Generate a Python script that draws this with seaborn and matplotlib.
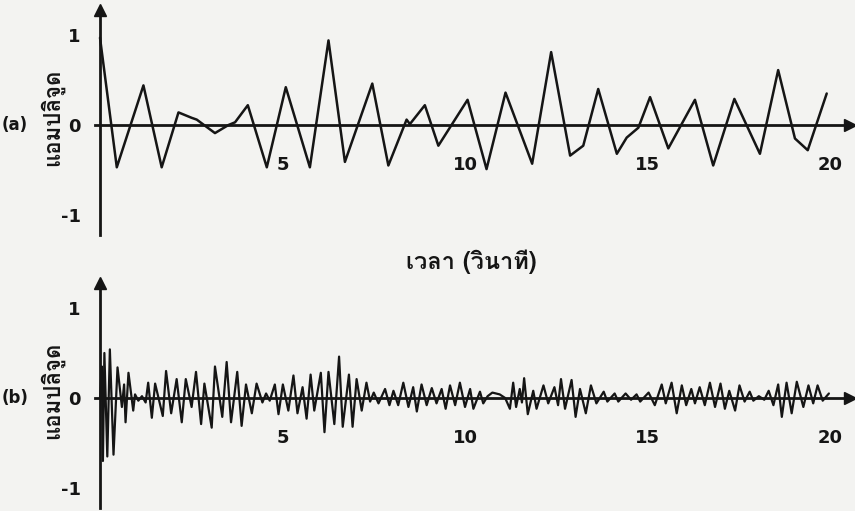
import matplotlib
matplotlib.use("Agg")
import matplotlib.pyplot as plt
from matplotlib import font_manager, ft2font
import seaborn as sns

# ข้อมูลสัญญาณ (a) : จุดยอด/จุดต่ำ อ่านจากภาพ
time_a = [0.0, 0.46, 1.19, 1.69, 2.15, 2.51, 2.65, 3.15, 3.52, 3.70, 4.05, 4.57,
          5.09, 5.75, 6.26, 6.71, 7.46, 7.90, 8.40, 8.49, 8.90, 9.27, 10.07, 10.59,
          11.11, 11.84, 12.36, 12.88, 13.24, 13.65, 14.16, 14.43, 14.75, 15.07, 15.57,
          16.30, 16.80, 17.38, 18.08, 18.58, 19.04, 19.39, 19.91]
amp_a = [0.97, -0.47, 0.44, -0.47, 0.14, 0.08, 0.06, -0.09, 0.0, 0.03, 0.22, -0.47,
         0.42, -0.47, 0.94, -0.41, 0.46, -0.45, 0.06, 0.01, 0.22, -0.23, 0.28, -0.49,
         0.36, -0.43, 0.81, -0.34, -0.23, 0.40, -0.32, -0.14, -0.03, 0.31, -0.26,
         0.28, -0.45, 0.29, -0.32, 0.61, -0.15, -0.28, 0.35]

# ข้อมูลสัญญาณ (b)
time_b = [0.00, 0.05, 0.08, 0.12, 0.20, 0.27, 0.37, 0.48, 0.60, 0.66, 0.70, 0.78,
          0.91, 0.96, 1.05, 1.15, 1.25, 1.32, 1.42, 1.51, 1.72, 1.81, 1.95, 2.10,
          2.24, 2.35, 2.51, 2.63, 2.77, 2.86, 3.06, 3.15, 3.35, 3.47, 3.59, 3.76,
          3.88, 4.00, 4.16, 4.29, 4.45, 4.55, 4.65, 4.79, 4.89, 5.01, 5.16, 5.30,
          5.41, 5.55, 5.66, 5.77, 5.87, 6.05, 6.15, 6.26, 6.42, 6.55, 6.65, 6.82,
          6.92, 7.03, 7.17, 7.30, 7.40, 7.50, 7.63, 7.81, 7.93, 8.04, 8.17, 8.31,
          8.45, 8.58, 8.68, 8.81, 8.95, 9.09, 9.22, 9.36, 9.47, 9.59, 9.73, 9.86,
          10.00, 10.14, 10.23, 10.41, 10.50, 10.62, 10.75, 10.95, 11.10, 11.23, 11.32, 11.40,
          11.50, 11.56, 11.62, 11.72, 11.87, 11.96, 12.15, 12.28, 12.45, 12.55, 12.63, 12.74,
          12.92, 13.03, 13.15, 13.31, 13.45, 13.60, 13.80, 13.90, 14.10, 14.20, 14.40, 14.55,
          14.70, 14.80, 15.03, 15.20, 15.39, 15.50, 15.66, 15.80, 15.94, 16.06, 16.20, 16.30,
          16.43, 16.57, 16.71, 16.85, 17.00, 17.12, 17.24, 17.40, 17.52, 17.66, 17.80, 17.90,
          18.05, 18.20, 18.32, 18.45, 18.58, 18.68, 18.81, 18.95, 19.09, 19.27, 19.41, 19.54,
          19.66, 19.80, 19.97]
amp_b = [0.0, 0.35, -0.70, 0.50, -0.65, 0.54, -0.63, 0.34, -0.10, 0.15, -0.27, 0.28,
         -0.14, 0.04, -0.03, 0.02, -0.05, 0.17, -0.22, 0.16, -0.20, 0.30, -0.17, 0.21,
         -0.27, 0.21, -0.10, 0.29, -0.29, 0.16, -0.33, 0.35, -0.21, 0.40, -0.27, 0.29,
         -0.31, 0.15, -0.17, 0.16, -0.05, 0.05, -0.03, 0.15, -0.18, 0.15, -0.14, 0.25,
         -0.17, 0.12, -0.23, 0.26, -0.14, 0.28, -0.38, 0.29, -0.29, 0.46, -0.32, 0.26,
         -0.32, 0.21, -0.14, 0.17, -0.04, 0.06, -0.06, 0.10, -0.08, 0.08, -0.08, 0.17,
         -0.10, 0.12, -0.15, 0.15, -0.08, 0.11, -0.06, 0.10, -0.12, 0.14, -0.08, 0.17,
         -0.10, 0.10, -0.12, 0.07, -0.06, 0.02, 0.06, 0.04, 0.0, -0.12, 0.17, -0.10,
         0.10, -0.05, 0.22, -0.18, 0.08, -0.12, 0.14, -0.06, 0.12, -0.08, 0.21, -0.12,
         0.20, -0.21, 0.10, -0.17, 0.14, -0.06, 0.07, -0.04, 0.05, -0.04, 0.05, -0.02,
         0.04, -0.04, 0.06, -0.08, 0.15, -0.06, 0.17, -0.17, 0.14, -0.08, 0.10, -0.06,
         0.12, -0.08, 0.17, -0.10, 0.16, -0.12, 0.08, -0.14, 0.14, -0.04, 0.07, -0.03,
         0.02, -0.02, 0.08, -0.08, 0.15, -0.21, 0.17, -0.17, 0.18, -0.10, 0.14, -0.06,
         0.14, -0.03, 0.05]

x_ticks = [5, 10, 15, 20]
y_ticks = [-1, 0, 1]
y_ticklabels = ['-1', '0', '1']
panel_labels = ['(a)', '(b)']
ylabel_text = 'แอมปลิจูด'
xlabel_text = 'เวลา (วินาที)'

sns.set_style("white")

# หาฟอนต์ที่มีอักษรไทย
thai_family = None
for f in font_manager.fontManager.ttflist:
    try:
        if 0x0E41 in ft2font.FT2Font(f.fname).get_charmap():
            thai_family = f.name
            break
    except Exception:
        pass
families = ([thai_family] if thai_family else []) + ['DejaVu Sans']
plt.rcParams['font.family'] = families

ink = '#151515'
paper = '#f3f3f1'

fig = plt.figure(figsize=(8.55, 5.11), dpi=100, facecolor=paper)
ax1 = fig.add_axes([0, 1 - 250 / 511, 1, 250 / 511])
ax2 = fig.add_axes([0, 0, 1, 238 / 511])

sns.lineplot(x=time_a, y=amp_a, ax=ax1, color=ink, lw=1.8)
sns.lineplot(x=time_b, y=amp_b, ax=ax2, color=ink, lw=1.6)

ylims = [(-1.389, 1.389), (-1.256, 1.389)]
for ax, yl, lab in zip([ax1, ax2], ylims, panel_labels):
    ax.set_facecolor('none')
    ax.set_xlim(-100 / 36.5, 755 / 36.5)
    ax.set_ylim(*yl)
    for s in ['top', 'right']:
        ax.spines[s].set_visible(False)
    ax.spines['left'].set_position(('data', 0))
    ax.spines['bottom'].set_position(('data', 0))
    ax.spines['left'].set_bounds(max(yl[0], -1.22), 1.28)
    ax.spines['bottom'].set_bounds(-0.15, 20.5)
    for s in ['left', 'bottom']:
        ax.spines[s].set_color(ink)
        ax.spines[s].set_linewidth(2.0)
    ax.plot(20.55, 0, '>', color=ink, ms=8, clip_on=False)
    ax.plot(0, 1.28, '^', color=ink, ms=8, clip_on=False)
    ax.set_xticks(x_ticks)
    ax.set_xticklabels([str(t) for t in x_ticks], fontsize=13, fontweight='bold',
                       family='DejaVu Sans')
    ax.set_yticks(y_ticks)
    ax.set_yticklabels(y_ticklabels, fontsize=13, fontweight='bold', family='DejaVu Sans')
    ax.tick_params(axis='x', direction='inout', length=8, width=1.5, pad=18, colors=ink)
    ax.tick_params(axis='y', direction='inout', length=10, width=1.5, pad=9, colors=ink)
    ax.set_xlabel('')
    ax.set_ylabel('')
    ax.text(-2.33, 0, lab, fontsize=12, fontweight='bold', ha='center', va='center',
            color=ink, family='DejaVu Sans')
    ax.text(-1.32, 0.08, ylabel_text, rotation=90, fontsize=16, fontweight='bold',
            ha='center', va='center', color=ink)

fig.text(471 / 855, 1 - 262 / 511, xlabel_text, fontsize=17, fontweight='bold',
         ha='center', va='center', color=ink)

fig.savefig('out.png', dpi=100, facecolor=paper)
